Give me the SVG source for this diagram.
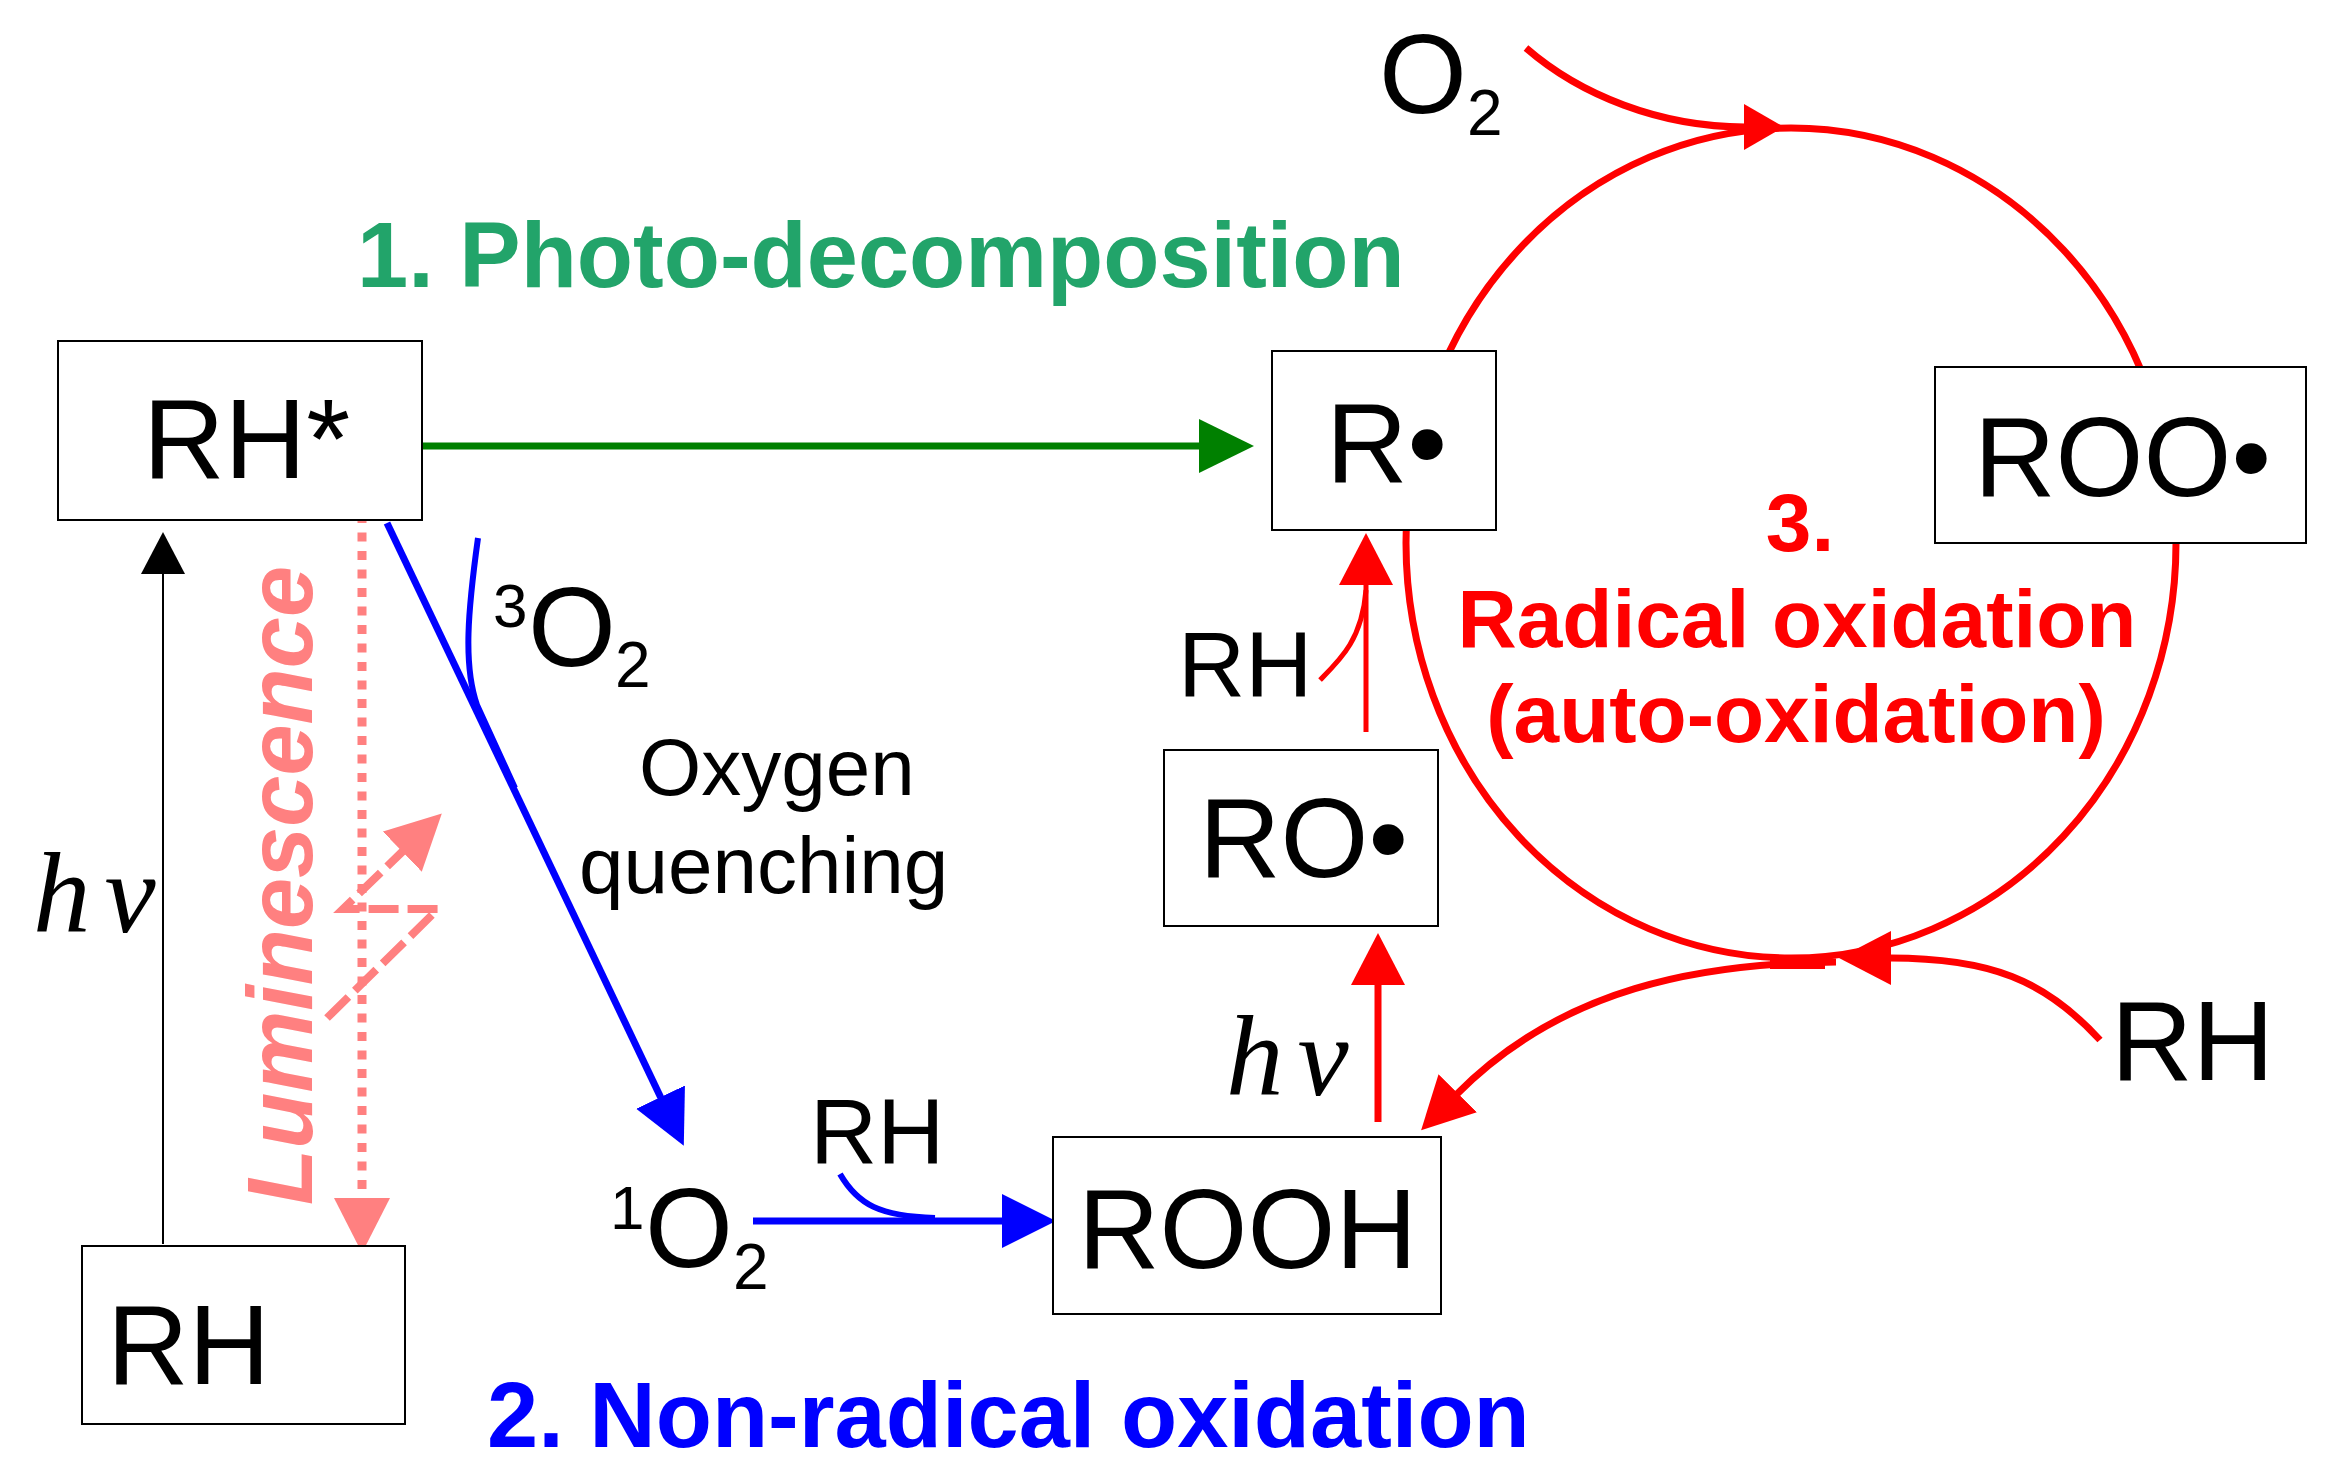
<svg xmlns="http://www.w3.org/2000/svg" width="2326" height="1480" viewBox="0 0 2326 1480">
<style>
.box{fill:#fff;stroke:#000;stroke-width:2}
.t{font-family:"Liberation Sans",Arial,sans-serif;fill:#000}
.big{font-size:113px}
.mid{font-size:93px}
.sub{font-size:64px}
.hv{font-family:"Liberation Serif","Times New Roman",serif;font-style:italic;font-size:115px;fill:#000}
.title{font-family:"Liberation Sans",Arial,sans-serif;font-weight:bold}
.red{stroke:#ff0000;fill:none}
.blue{stroke:#0000ff;fill:none}
.pink{stroke:#ff8080;fill:none}
</style>
<defs>
<marker id="aRed" markerUnits="userSpaceOnUse" markerWidth="60" markerHeight="60" refX="1" refY="27" orient="auto"><path d="M0,0 L52,27 L0,54 z" fill="#ff0000"/></marker>
<marker id="aRedS" markerUnits="userSpaceOnUse" markerWidth="50" markerHeight="50" refX="1" refY="23" orient="auto"><path d="M0,0 L40,23 L0,46 z" fill="#ff0000"/></marker>
<marker id="aGreen" markerUnits="userSpaceOnUse" markerWidth="60" markerHeight="60" refX="1" refY="27" orient="auto"><path d="M0,0 L55,27 L0,54 z" fill="#008000"/></marker>
<marker id="aBlue" markerUnits="userSpaceOnUse" markerWidth="60" markerHeight="60" refX="1" refY="27" orient="auto"><path d="M0,0 L54,27 L0,54 z" fill="#0000ff"/></marker>
<marker id="aBlack" markerUnits="userSpaceOnUse" markerWidth="50" markerHeight="50" refX="1" refY="22" orient="auto"><path d="M0,0 L42,22 L0,44 z" fill="#000"/></marker>
<marker id="aPink" markerUnits="userSpaceOnUse" markerWidth="60" markerHeight="60" refX="1" refY="28" orient="auto"><path d="M0,0 L55,28 L0,56 z" fill="#ff8080"/></marker>
</defs>

<g id="connectors">
  <!-- red radical cycle -->
  <ellipse cx="1791" cy="543" rx="385" ry="415" class="red" stroke-width="7"/>
  <path d="M1526,48 C1580,95 1660,127 1745,127" class="red" stroke-width="7" marker-end="url(#aRedS)"/>
  <path d="M2100,1040 C2045,980 1990,958 1890,958" class="red" stroke-width="7" marker-end="url(#aRed)"/>
  <path d="M1836,962 C1700,963 1562,988 1457,1094" class="red" stroke-width="7" marker-end="url(#aRed)"/>
  <path d="M1770,962 L1825,962" class="red" stroke-width="14"/>
  <path d="M1378,1122 L1378,984" class="red" stroke-width="7" marker-end="url(#aRed)"/>
  <path d="M1366,732 L1366,584" class="red" stroke-width="5" marker-end="url(#aRed)"/>
  <path d="M1320,680 C1340,660 1362,640 1366,590" class="red" stroke-width="5"/>
  <!-- green photo-decomposition -->
  <path d="M422,446 L1200,446" stroke="#008000" stroke-width="7" fill="none" marker-end="url(#aGreen)"/>
  <!-- black excitation -->
  <path d="M163,1244 L163,573" stroke="#000" stroke-width="2" fill="none" marker-end="url(#aBlack)"/>
  <!-- luminescence -->
  <path d="M362,514 L362,1199" class="pink" stroke-width="9" stroke-dasharray="9 9.5" marker-end="url(#aPink)"/>
  <path d="M327,1018 L438,909 L343,909 L403,851" class="pink" stroke-width="8" stroke-dasharray="30 9" marker-end="url(#aPink)"/>
  <!-- blue oxygen quenching / non-radical -->
  <path d="M387,523 L661,1098" class="blue" stroke-width="7" marker-end="url(#aBlue)"/>
  <path d="M478,538 C468,610 463,665 477,705 L515,788" class="blue" stroke-width="6"/>
  <path d="M753,1221 L1003,1221" class="blue" stroke-width="7" marker-end="url(#aBlue)"/>
  <path d="M840,1174 C858,1205 880,1216 935,1218" class="blue" stroke-width="6"/>
</g>

<g id="node-RHstar">
  <rect x="58" y="341" width="364" height="179" class="box"/>
  <text x="143" y="478" class="t big">RH*</text>
</g>
<g id="node-R">
  <rect x="1272" y="351" width="224" height="179" class="box"/>
  <text x="1326" y="482" class="t big">R•</text>
</g>
<g id="node-ROO">
  <rect x="1935" y="367" width="371" height="176" class="box"/>
  <text x="1974" y="496" class="t big">ROO•</text>
</g>
<g id="node-RO">
  <rect x="1164" y="750" width="274" height="176" class="box"/>
  <text x="1199" y="877" class="t big">RO•</text>
</g>
<g id="node-ROOH">
  <rect x="1053" y="1137" width="388" height="177" class="box"/>
  <text x="1078" y="1268" class="t big">ROOH</text>
</g>
<g id="node-RH">
  <rect x="82" y="1246" width="323" height="178" class="box"/>
  <text x="107" y="1384" class="t big">RH</text>
</g>

<g id="labels">
  <text x="1379" y="113" class="t big">O</text>
  <text x="1467" y="135" class="t sub">2</text>

  <text x="493" y="627" class="t" font-size="62">3</text>
  <text x="528" y="666" class="t big">O</text>
  <text x="615" y="687" class="t sub">2</text>

  <text x="610" y="1229" class="t" font-size="62">1</text>
  <text x="645" y="1267" class="t big">O</text>
  <text x="733" y="1289" class="t sub">2</text>

  <text x="639" y="795" class="t" font-size="80">Oxygen</text>
  <text x="579" y="893" class="t" font-size="80">quenching</text>

  <text x="810" y="1164" class="t mid">RH</text>
  <text x="1178" y="697" class="t mid">RH</text>
  <text x="2111" y="1080" class="t big">RH</text>

  <text x="33" y="932" class="hv">h<tspan dx="14">ν</tspan></text>
  <text x="1226" y="1095" class="hv">h<tspan dx="14">ν</tspan></text>

  <text transform="translate(312,1205) rotate(-90)" class="title" font-size="92" font-style="italic" fill="#ff8080">Luminescence</text>

  <text x="357" y="287" class="title" font-size="92" fill="#22a46a">1. Photo-decomposition</text>
  <text x="487" y="1447" class="title" font-size="92" fill="#0000ff">2. Non-radical oxidation</text>
  <text x="1800" y="551" class="title" font-size="82" fill="#ff0000" text-anchor="middle">3.</text>
  <text x="1797" y="647" class="title" font-size="82" fill="#ff0000" text-anchor="middle">Radical oxidation</text>
  <text x="1796" y="742" class="title" font-size="82" fill="#ff0000" text-anchor="middle">(auto-oxidation)</text>
</g>
</svg>
